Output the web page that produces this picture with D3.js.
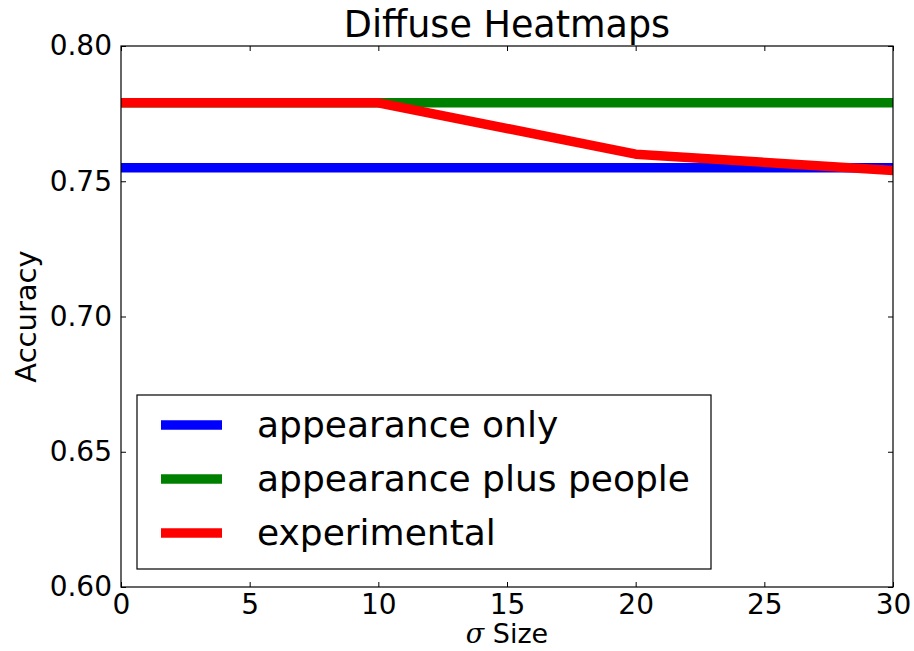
<!DOCTYPE html>
<html>
<head>
<meta charset="utf-8">
<script src="https://cdn.jsdelivr.net/npm/d3@7"></script>
<style>
  html, body { margin: 0; padding: 0; background: #fff; }
  svg text { font-family: "DejaVu Sans", sans-serif; fill: #000; }
</style>
</head>
<body>
<svg id="chart" width="914" height="651"></svg>
<script>
// Accuracy vs. sigma size for diffuse heatmaps
const sigmaValues = [0, 10, 20, 30];
const appearanceOnly = [0.755, 0.755, 0.755, 0.755];
const appearancePlusPeople = [0.779, 0.779, 0.779, 0.779];
const experimental = [0.779, 0.779, 0.760, 0.754];

const seriesNames = ["appearance only", "appearance plus people", "experimental"];
const seriesColors = ["#0000ff", "#008000", "#ff0000"];

const xTicks = [0, 5, 10, 15, 20, 25, 30];
const yTicks = [0.60, 0.65, 0.70, 0.75, 0.80];

const svg = d3.select("#chart");
const margin = { left: 121, right: 21, top: 46, bottom: 64 };
const W = 914, H = 651;
const plotW = W - margin.left - margin.right;
const plotH = H - margin.top - margin.bottom;

const x = d3.scaleLinear().domain([0, 30]).range([0, plotW]);
const y = d3.scaleLinear().domain([0.60, 0.80]).range([plotH, 0]);

const g = svg.append("g").attr("transform", `translate(${margin.left},${margin.top})`);

g.append("clipPath").attr("id", "plot-clip")
  .append("rect").attr("width", plotW).attr("height", plotH);

// Data lines
const series = [appearanceOnly, appearancePlusPeople, experimental];
const line = d3.line().x((d, i) => x(sigmaValues[i])).y(d => y(d));
const lineLayer = g.append("g").attr("clip-path", "url(#plot-clip)");
series.forEach((vals, k) => {
  lineLayer.append("path")
    .datum(vals)
    .attr("d", line)
    .attr("fill", "none")
    .attr("stroke", seriesColors[k])
    .attr("stroke-width", 9.5)
    .attr("stroke-linejoin", "round")
    .attr("stroke-linecap", "square");
});

// Axes with inward ticks on all four sides
const tickLen = 5;
const tickFont = 28;
const axisBottom = d3.axisBottom(x).tickValues(xTicks).tickSize(-tickLen).tickPadding(tickLen + 2).tickFormat(d3.format("d"));
const axisTop = d3.axisTop(x).tickValues(xTicks).tickSize(-tickLen).tickFormat("");
const axisLeft = d3.axisLeft(y).tickValues(yTicks).tickSize(-tickLen).tickPadding(tickLen + 4).tickFormat(d3.format(".2f"));
const axisRight = d3.axisRight(y).tickValues(yTicks).tickSize(-tickLen).tickFormat("");

function styleAxis(sel) {
  sel.select(".domain").remove();
  sel.selectAll(".tick line").attr("stroke", "#000").attr("stroke-width", 1);
  sel.selectAll(".tick text").attr("font-size", tickFont).attr("font-family", "DejaVu Sans, sans-serif").attr("fill", "#000");
}

g.append("g").attr("transform", `translate(0,${plotH})`).call(axisBottom).call(styleAxis);
g.append("g").call(axisTop).call(styleAxis);
g.append("g").call(axisLeft).call(styleAxis);
g.append("g").attr("transform", `translate(${plotW},0)`).call(axisRight).call(styleAxis);

// Frame
g.append("rect").attr("width", plotW).attr("height", plotH)
  .attr("fill", "none").attr("stroke", "#000").attr("stroke-width", 1.2);

// Title and axis labels
svg.append("text")
  .attr("x", margin.left + plotW / 2).attr("y", 37)
  .attr("text-anchor", "middle").attr("font-size", 36.5)
  .text("Diffuse Heatmaps");

const xl = svg.append("text")
  .attr("x", margin.left + plotW / 2).attr("y", 643)
  .attr("text-anchor", "middle").attr("font-size", 27);
xl.append("tspan").attr("font-family", "DejaVu Serif, serif").attr("font-style", "italic").text("σ");
xl.append("tspan").text(" Size");

svg.append("text")
  .attr("transform", `translate(36,${margin.top + plotH / 2}) rotate(-90)`)
  .attr("text-anchor", "middle").attr("font-size", 29)
  .text("Accuracy");

// Legend
const legend = g.append("g").attr("transform", `translate(${137 - margin.left},${395 - margin.top})`);
legend.append("rect").attr("width", 574).attr("height", 174)
  .attr("fill", "#fff").attr("stroke", "#000").attr("stroke-width", 1.2);
seriesNames.forEach((name, k) => {
  const yy = 30 + k * 54;
  legend.append("line")
    .attr("x1", 24).attr("x2", 85).attr("y1", yy).attr("y2", yy)
    .attr("stroke", seriesColors[k]).attr("stroke-width", 9.5);
  legend.append("text")
    .attr("x", 120).attr("y", yy + 12)
    .attr("font-size", 36)
    .text(name);
});
</script>
</body>
</html>
